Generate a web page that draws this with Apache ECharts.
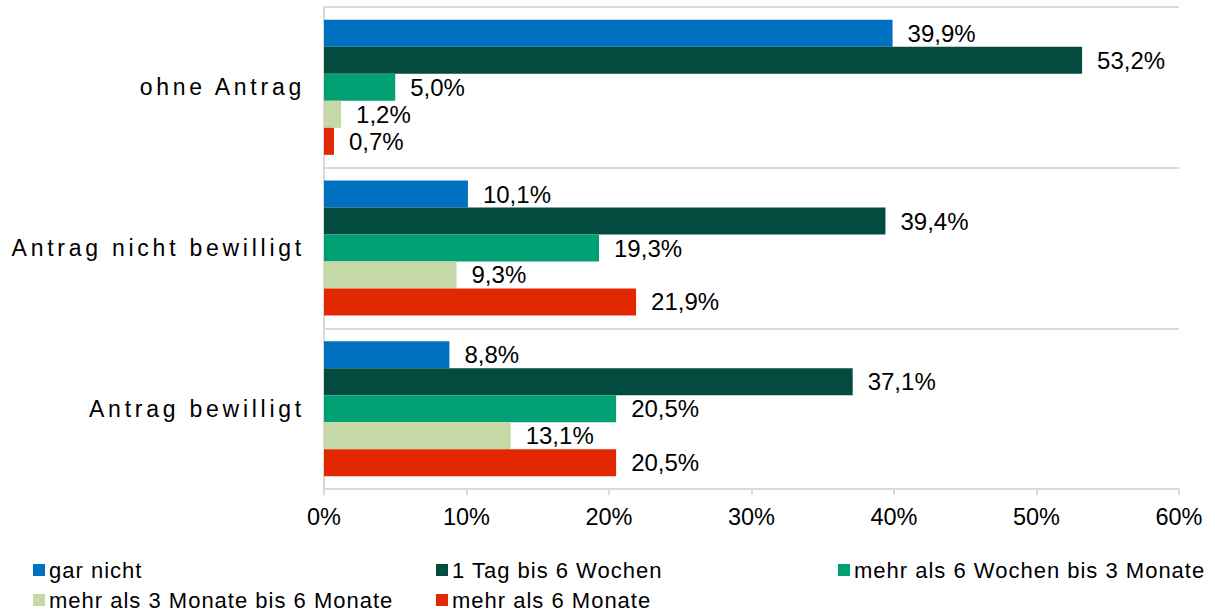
<!DOCTYPE html>
<html>
<head>
<meta charset="utf-8">
<script src="https://cdn.jsdelivr.net/npm/echarts@6/dist/echarts.min.js"></script>
<style>
html,body{margin:0;padding:0;background:#fff;}
#chart{width:1215px;height:614px;}
</style>
</head>
<body>
<div id="chart"></div>
<script>
const categories = ['ohne Antrag', 'Antrag nicht bewilligt', 'Antrag bewilligt'];
const seriesNames = ['gar nicht', '1 Tag bis 6 Wochen', 'mehr als 6 Wochen bis 3 Monate', 'mehr als 3 Monate bis 6 Monate', 'mehr als 6 Monate'];
const garNicht = [39.9, 10.1, 8.8];
const tagBis6Wochen = [53.2, 39.4, 37.1];
const wochen6Bis3Monate = [5.0, 19.3, 20.5];
const monate3Bis6 = [1.2, 9.3, 13.1];
const mehrAls6Monate = [0.7, 21.9, 20.5];
const xMin = 0, xMax = 60, xStep = 10;

const colors = ['#0070C0', '#034B3F', '#00A072', '#C5D9A7', '#E22800'];
const seriesValues = [garNicht, tagBis6Wochen, wochen6Bis3Monate, monate3Bis6, mehrAls6Monate];
const FONT = "'Liberation Sans', Arial, sans-serif";

const chart = echarts.init(document.getElementById('chart'), null, {renderer: 'svg'});

const legendPos = [
  {left: 33, top: 559},
  {left: 436, top: 559},
  {left: 838, top: 559},
  {left: 33, top: 589},
  {left: 436, top: 589}
];

const option = {
  animation: false,
  color: colors,
  grid: {left: 324, right: 36, top: 7, bottom: 125, containLabel: false},
  xAxis: {
    type: 'value', min: xMin, max: xMax, interval: xStep,
    axisLine: {show: true, lineStyle: {color: '#d9d9d9', width: 2}},
    axisTick: {show: true, length: 6, lineStyle: {color: '#d9d9d9', width: 2}},
    splitLine: {show: false},
    axisLabel: {formatter: '{value}%', fontSize: 23.5, color: '#000', fontFamily: FONT, margin: 16}
  },
  yAxis: {
    type: 'category', data: categories, inverse: true,
    axisLine: {show: true, lineStyle: {color: '#d9d9d9', width: 2}},
    axisTick: {show: false},
    splitLine: {show: true, lineStyle: {color: '#d9d9d9', width: 2}},
    axisLabel: {fontSize: 23, color: '#000', fontFamily: FONT, margin: 19}
  },
  legend: seriesNames.map((n, i) => ({
    data: [n], left: legendPos[i].left, top: legendPos[i].top, padding: 0,
    icon: 'rect', itemWidth: 12, itemHeight: 12, itemGap: 0,
    selectedMode: false,
    textStyle: {fontSize: 22, color: '#000', fontFamily: FONT, padding: [0, 0, 0, -1]}
  })),
  series: seriesNames.map((n, i) => ({
    name: n, type: 'bar', data: seriesValues[i],
    barGap: '0%', barCategoryGap: '16%',
    itemStyle: {color: colors[i]},
    label: {
      show: true, position: 'right', distance: 15,
      fontSize: 24, color: '#000', fontFamily: FONT,
      formatter: p => p.value.toFixed(1).replace('.', ',') + '%'
    }
  }))
};
chart.setOption(option);

function spaceLabels() {
  const texts = document.querySelectorAll('#chart svg text');
  texts.forEach(t => {
    if (categories.indexOf(t.textContent) >= 0) {
      t.setAttribute('letter-spacing', '3.75px');
    } else if (seriesNames.indexOf(t.textContent) >= 0) {
      t.setAttribute('letter-spacing', '1px');
    }
  });
}
spaceLabels();
chart.on('finished', spaceLabels);
</script>
</body>
</html>
